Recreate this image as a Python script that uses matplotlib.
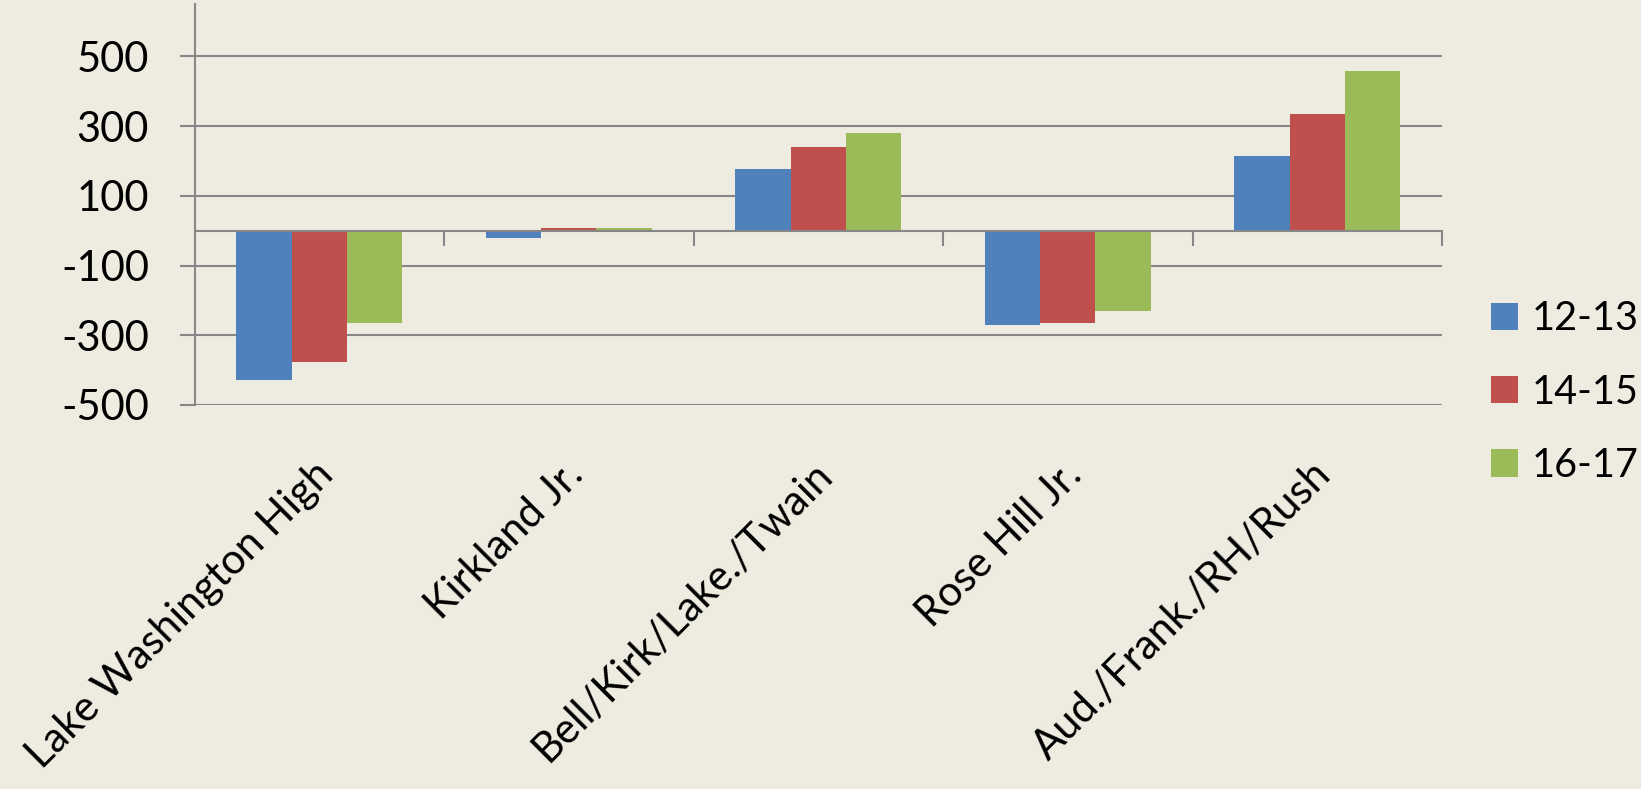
import matplotlib
matplotlib.use("Agg")
import matplotlib.pyplot as plt
import matplotlib.transforms as mtransforms
import numpy as np

plt.rcParams['font.family'] = ['Lato', 'DejaVu Sans']

# data
schools = ["Lake Washington High", "Kirkland Jr.", "Bell/Kirk/Lake./Twain",
           "Rose Hill Jr.", "Aud./Frank./RH/Rush"]
years = ["12-13", "14-15", "16-17"]
v_12_13 = [-428, -22, 177, -271, 215]
v_14_15 = [-377, 8, 241, -264, 335]
v_16_17 = [-266, 9, 279, -231, 457]
yticks = [-500, -300, -100, 100, 300, 500]

colors = ["#4F81BD", "#C0504D", "#9BBB59"]
bg = "#EEECE1"
grid_c = "#878787"
fs = 30

fig = plt.figure(figsize=(16.41, 7.89), dpi=100, facecolor=bg)
ax = fig.add_axes([194.5/1641, (789-405)/789, (1442-194.5)/1641, 401/789])
ax.set_facecolor(bg)

x = np.arange(len(schools))
w = 1/4.5
for i, (vals, lab) in enumerate(zip([v_12_13, v_14_15, v_16_17], years)):
    ax.bar(x + (i-1)*w, vals, width=w, color=colors[i], label=lab, zorder=2)

ax.set_xlim(-0.5, len(schools)-0.5)
ax.set_ylim(-500, 650)
ax.set_yticks(yticks)
ax.set_yticklabels([str(t) for t in yticks], fontsize=fs)
ax.yaxis.grid(True, color=grid_c, lw=1.5)
ax.set_axisbelow(True)
ax.tick_params(axis='y', length=10.8, width=1.5, color=grid_c, pad=22)

# category axis crosses at zero, tick marks between categories
for s in ['top', 'right']:
    ax.spines[s].set_visible(False)
ax.spines['bottom'].set_position(('data', 0))
for s in ['bottom', 'left']:
    ax.spines[s].set_color(grid_c)
    ax.spines[s].set_linewidth(1.5)
ax.set_xticks(x[:-1] + 0.5)
ax.set_xticks([len(schools)-0.5], minor=True)
ax.tick_params(axis='x', which='both', length=11, width=1.5, color=grid_c,
               labelbottom=False)

# category labels at the bottom of the plot
sec = ax.secondary_xaxis(0)
sec.set_xticks(x)
sec.set_xticklabels(schools, rotation=45, ha='right', rotation_mode='anchor',
                    fontsize=fs)
sec.tick_params(length=0, pad=36)
sec.spines['bottom'].set_visible(False)
shift = mtransforms.ScaledTranslation(-6/100, 0, fig.dpi_scale_trans)
for t in sec.get_xticklabels():
    t.set_transform(t.get_transform() + shift)

fig.legend(loc='center left', bbox_to_anchor=(1491/1641, (789-392)/789),
           frameon=False, fontsize=28.5, handlelength=0.68, handleheight=0.68,
           handletextpad=0.35, labelspacing=0.92, borderpad=0, borderaxespad=0)

fig.savefig("out.png", dpi=100, facecolor=bg)
